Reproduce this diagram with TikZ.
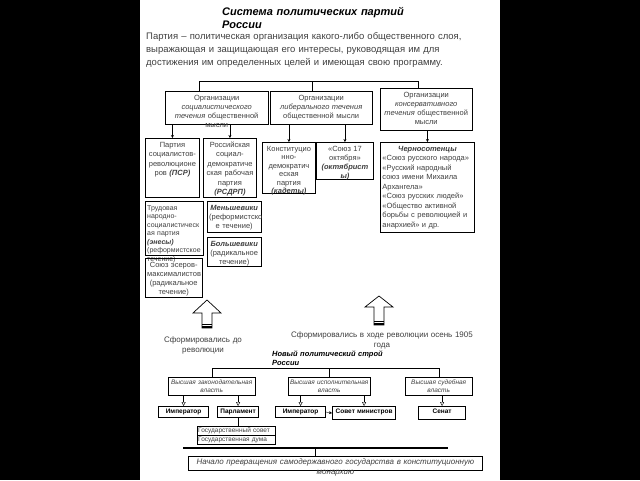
\documentclass[tikz,border=0pt]{standalone}
\usepackage{fontspec}
\setmainfont{Liberation Sans}
\usetikzlibrary{arrows.meta}
\usetikzlibrary{positioning}
\usetikzlibrary{calc}

\tikzset{
  textblock/.style={anchor=north west, inner sep=0pt, text=black!75},
  orgbox/.style={draw, anchor=north west, align=center, inner sep=2pt, text height=7pt, text=black!75, font=\fontsize{7.5}{9}\selectfont},
  partybox/.style={orgbox, line width=0.9pt, font=\fontsize{7.5}{9.5}\selectfont},
  powerbox/.style={draw, anchor=north west, align=center, inner sep=1.5pt, text height=5.5pt, text=black!75, font=\fontsize{6.5}{8}\selectfont\itshape},
  organbox/.style={draw, line width=1.2pt, anchor=north west, align=center, inner sep=1.5pt, text height=5.5pt, font=\fontsize{6.5}{8}\selectfont\bfseries},
  chamberbox/.style={draw, anchor=north west, align=left, inner sep=1pt, text height=5pt, text depth=2pt, text width=76pt, text=black!75, font=\fontsize{6.5}{8}\selectfont},
  down/.style={-{Stealth[length=3pt,width=3pt]}},
  opendown/.style={-{Triangle[open,length=4pt,width=4pt]}},
}

\begin{document}
\begin{tikzpicture}[x=1pt,y=-1pt]
\useasboundingbox (0,0) rectangle (640,480);
\fill[black] (0,0) rectangle (140,480);
\fill[black] (500,0) rectangle (640,480);
\fill[white] (140,0) rectangle (500,480);

% header
\node[textblock, text=black, text width=200pt, text height=8pt, align=left,
  font=\fontsize{11}{13}\selectfont\bfseries\itshape] (title) at (222,7)
  {Система политических партий\\ России};
\node[textblock, text width=340pt, text height=7pt, align=left,
  font=\fontsize{9.5}{13}\selectfont] (defn) at (146,32)
  {Партия -- политическая организация какого-либо общественного слоя,\\
   выражающая и защищающая его интересы, руководящая им для\\
   достижения им определенных целей и имеющая свою программу.};

% three currents
\node[orgbox, text width=99pt, text depth=22pt] (org1) at (165,91)
  {Организации\\ \textit{социалистического}\\ \textit{течения} общественной\\ мысли};
\node[orgbox, text width=98pt, text depth=22pt] (org2) at (270,91)
  {Организации\\ \textit{либерального течения}\\ общественной мысли};
\node[orgbox, text width=88pt, text depth=31pt] (org3) at (380,88)
  {Организации\\ \textit{консервативного}\\ \textit{течения} общественной\\ мысли};
\draw ([xshift=-17.5pt]org1.north) -- ++(0,-10) -| ([xshift=-8pt]org3.north);
\draw ([xshift=-9pt]org2.north) -- ++(0,-10);

% parties
\node[partybox, text width=50pt, text depth=48pt] (psr) at (145,138)
  {Партия\\ социалистов-\\ революционе\\ ров \textbf{\textit{(ПСР)}}};
\node[partybox, text width=49pt, text depth=48pt] (rsdrp) at (203,138)
  {Российская\\ социал-\\ демократиче\\ ская рабочая\\ партия\\ \textbf{\textit{(РСДРП)}}};
\node[partybox, text width=49pt, text depth=40pt, font=\fontsize{7.5}{8.5}\selectfont] (kad) at (262,142)
  {Конституцио\\ нно-\\ демократич\\ еская\\ партия\\ \textbf{\textit{(кадеты)}}};
\node[partybox, text width=53pt, text depth=26pt, font=\fontsize{7.5}{9}\selectfont] (okt) at (316,142)
  {«Союз 17\\ октября»\\ \textbf{\textit{(октябрист}}\\ \textbf{\textit{ы)}}};
\node[partybox, text width=90pt, text depth=79pt, align=left] (cherno) at (380,142)
  {\makebox[\linewidth]{\textbf{\textit{Черносотенцы}}}\\
   «Союз русского народа»\\ «Русский народный\\ союз имени Михаила\\ Архангела»\\
   «Союз русских людей»\\ «Общество активной\\ борьбы с революцией и\\ анархией» и др.};
\draw[down] (org1.south -| psr.north) -- (psr.north);
\draw[down] (org1.south -| rsdrp.north) -- (rsdrp.north);
\draw[down] (org2.south -| kad.north) -- (kad.north);
\draw[down] (org2.south -| okt.north) -- (okt.north);
\draw[down] (org3.south -| cherno.north) -- (cherno.north);

\node[orgbox, text width=54pt, text depth=43pt, align=left, font=\fontsize{7}{8.5}\selectfont] (trud) at (145,201)
  {Трудовая\\ народно-\\ социалистическ\\ ая партия\\ \textbf{\textit{(энесы)}}\\ (реформистское\\ течение)};
\node[orgbox, text width=50pt, text depth=20pt] (mensh) at (207,201)
  {\textbf{\textit{Меньшевики}}\\ (реформистско\\ е течение)};
\node[orgbox, text width=50pt, text depth=18pt] (bolsh) at (207,237)
  {\textbf{\textit{Большевики}}\\ (радикальное\\ течение)};
\node[orgbox, text width=53pt, text depth=28pt] (maks) at (145,258)
  {Союз эсеров-\\ максималистов\\ (радикальное\\ течение)};

% hollow arrows
\foreach \cx/\tip/\hb/\bot in {207/300/313/328, 379/296/307/325} {
  \draw[line width=0.7pt, fill=white] (\cx,\tip) -- (\cx+14,\hb) -- (\cx+5,\hb) -- (\cx+5,\bot)
    -- (\cx-5,\bot) -- (\cx-5,\hb) -- (\cx-14,\hb) -- cycle;
  \draw[line width=1.5pt] (\cx-5,\bot-1) -- (\cx+5,\bot-1);
  \draw (\cx-5,\bot-4) -- (\cx+5,\bot-4);
}
\node[textblock, anchor=north, text width=110pt, text height=6pt, align=center,
  font=\fontsize{8}{10}\selectfont] (before) at (203,336) {Сформировались до\\ революции};
\node[textblock, anchor=north, text width=200pt, text height=6pt, align=center,
  font=\fontsize{8}{10}\selectfont] (during) at (382,331) {Сформировались в ходе революции осень 1905\\ года};

% new political system
\node[textblock, text=black, text width=150pt, text height=6pt, align=left,
  font=\fontsize{7.5}{9}\selectfont\bfseries\itshape] (newsys) at (272,350)
  {Новый политический строй\\ России};
\node[powerbox, text width=84pt, text depth=9.5pt] (leg) at (168,377) {Высшая законодательная\\ власть};
\node[powerbox, text width=79pt, text depth=9.5pt] (exec) at (288,377) {Высшая исполнительная\\ власть};
\node[powerbox, text width=64pt, text depth=9.5pt] (jud) at (405,377) {Высшая судебная\\ власть};
\draw (leg.north) -- ++(0,-9) -| (jud.north);
\draw (exec.north) -- ++(0,-9);

\node[organbox, text width=47pt, text depth=2.5pt] (imp1) at (158,406) {Император};
\node[organbox, text width=38pt, text depth=2.5pt] (parl) at (217,406) {Парламент};
\node[organbox, text width=47pt, text depth=2.5pt] (imp2) at (275,406) {Император};
\node[organbox, text width=60pt, text depth=4.5pt] (sovmin) at (332,406) {Совет министров};
\node[organbox, text width=44pt, text depth=4.5pt] (senat) at (418,406) {Сенат};
\draw[opendown] (leg.south -| imp1.north) -- (imp1.north);
\draw[opendown] (leg.south -| parl.north) -- (parl.north);
\draw[opendown] (exec.south -| imp2.north) -- (imp2.north);
\draw[opendown] (exec.south -| sovmin.north) -- (sovmin.north);
\draw[opendown] (jud.south -| senat.north) -- (senat.north);
\draw[down] (imp2.east) -- (sovmin.west);

\node[chamberbox] (gsov) at (197,426) {Государственный совет};
\node[chamberbox] (duma) at (gsov.south west) {Государственная дума};
\draw (parl.south) -- (parl.south |- gsov.north);

% result
\coordinate (sepL) at (183,448);
\coordinate (sepR) at (448,448);
\draw[line width=1.2pt] (sepL) -- (sepR);
\node[draw, line width=0.8pt, anchor=north west, inner sep=2pt, text height=6.5pt, text depth=3.5pt,
  text width=290pt, align=center, text=black!75, font=\fontsize{8}{10}\selectfont\itshape] (fin) at (188,456)
  {Начало превращения самодержавного государства в конституционную\\ монархию};
\draw ($(sepL)!.5!(sepR)$) coordinate (sepM) -- (sepM |- fin.north);
\end{tikzpicture}
\end{document}
